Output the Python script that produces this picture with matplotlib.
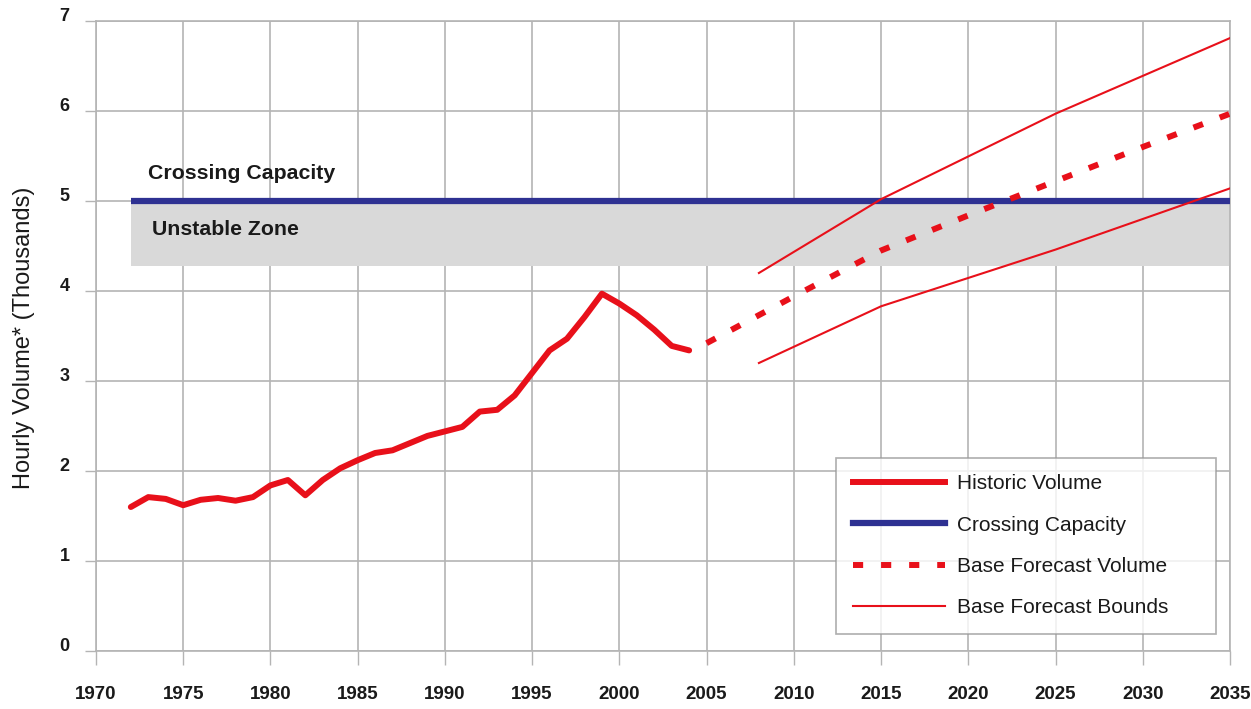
import matplotlib
matplotlib.use("Agg")
import matplotlib.pyplot as plt
from matplotlib.lines import Line2D

plt.rcParams['font.family'] = ['Liberation Sans', 'DejaVu Sans']

# ---- data ----
hist_years = list(range(1972, 2005))
hist_values = [1.60, 1.71, 1.69, 1.62, 1.68, 1.70, 1.67, 1.71, 1.84, 1.90,
               1.73, 1.90, 2.03, 2.12, 2.20, 2.23, 2.31, 2.39, 2.44, 2.49,
               2.66, 2.68, 2.84, 3.09, 3.34, 3.47, 3.71, 3.97, 3.86, 3.73,
               3.57, 3.39, 3.34]

fc_years = [2005, 2010, 2015, 2020, 2025, 2030, 2035]
fc_values = [3.42, 3.94, 4.45, 4.84, 5.22, 5.60, 5.97]

bound_years = [2008, 2015, 2025, 2035]
upper_bound = [4.20, 5.02, 5.97, 6.81]
lower_bound = [3.20, 3.83, 4.46, 5.14]

capacity_years = [1972, 2035]
capacity_value = 5.0
unstable_low = 4.28

x_ticks = list(range(1970, 2036, 5))
y_ticks = list(range(0, 8))

legend_labels = ["Historic Volume", "Crossing Capacity",
                 "Base Forecast Volume", "Base Forecast Bounds"]

RED = "#e8101a"
BLUE = "#2e3192"
GRID = "#b4b4b4"
TXT = "#1a1a1a"

fig = plt.figure(figsize=(12.51, 7.09), dpi=100)
ax = fig.add_axes([0.0767, 0.0818, 0.9065, 0.8886])

ax.set_xlim(1970, 2035)
ax.set_ylim(0, 7)

# unstable zone
ax.fill_between(capacity_years, unstable_low, capacity_value,
                color="#d9d9d9", zorder=1, linewidth=0)
ax.plot(capacity_years, [capacity_value] * 2, color=BLUE, lw=4.5,
        solid_capstyle="butt", zorder=3)

ax.plot(bound_years, upper_bound, color=RED, lw=1.5, zorder=4)
ax.plot(bound_years, lower_bound, color=RED, lw=1.5, zorder=4)
ax.plot(hist_years, hist_values, color=RED, lw=4.3, zorder=5,
        solid_joinstyle="round", solid_capstyle="round")
ax.plot(fc_years, fc_values, color=RED, lw=4.3, zorder=5,
        dashes=(1.7, 3.0), dash_capstyle="butt")

ax.text(1972.98, 5.31, "Crossing Capacity", fontsize=15.3, fontweight="bold",
        color=TXT, va="center", ha="left", zorder=6)
ax.text(1973.2, 4.68, "Unstable Zone", fontsize=15.3, fontweight="bold",
        color=TXT, va="center", ha="left", zorder=6)

ax.set_xticks(x_ticks)
ax.set_yticks(y_ticks)
ax.set_xticklabels([str(t) for t in x_ticks], fontsize=13.5, fontweight="bold")
ax.set_yticklabels([str(t) for t in y_ticks], fontsize=13, fontweight="bold")
for lab in ax.get_yticklabels():
    lab.set_va("baseline")
ax.tick_params(axis="x", direction="out", length=10, width=1, color=GRID,
               pad=15, labelcolor=TXT)
ax.tick_params(axis="y", direction="out", length=8, width=1, color=GRID,
               pad=11, labelcolor=TXT)
ax.grid(True, color=GRID, lw=1.2, zorder=0)
ax.set_axisbelow(True)
for s in ax.spines.values():
    s.set_color(GRID)
    s.set_linewidth(1.2)

fig.text(24 / 1251, 1 - 338 / 709, "Hourly Volume* (Thousands)", fontsize=17,
         color=TXT, rotation=90, ha="center", va="center")

handles = [
    Line2D([], [], color=RED, lw=4.3),
    Line2D([], [], color=BLUE, lw=4.5),
    Line2D([], [], color=RED, lw=4.3, dashes=(1.7, 3.0)),
    Line2D([], [], color=RED, lw=1.5),
]
leg = ax.legend(handles, legend_labels, loc="lower left",
                bbox_to_anchor=(0.6526, 0.027, 0.3351, 0.0), mode="expand",
                fontsize=15, frameon=True, fancybox=False, edgecolor="#9a9a9a",
                handlelength=4.45, handletextpad=0.55, labelspacing=1.07,
                borderpad=0.8, borderaxespad=0)
leg.get_frame().set_linewidth(1.2)
for t in leg.get_texts():
    t.set_color(TXT)

fig.savefig("out.png", dpi=100)
